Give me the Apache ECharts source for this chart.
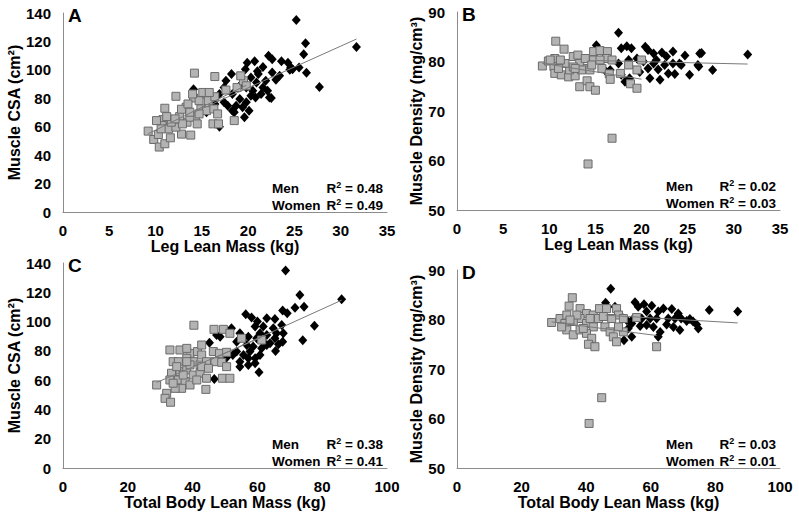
<!DOCTYPE html>
<html>
<head>
<meta charset="utf-8">
<script src="https://cdn.jsdelivr.net/npm/echarts/dist/echarts.min.js"></script>
<style>
  html, body { margin: 0; background: #fff; }
  #main { width: 799px; height: 519px; }
</style>
</head>
<body>
<div id="main"></div>
<script>
// Panel A: leg lean mass (kg) vs muscle CSA (cm2)
var menA = [
  [25.2,135],[26.2,118.7],[26.0,111],[26.3,98],[27.7,88],[31.7,116],[22.2,110],[22.6,107.5],
  [23.6,106],[24.3,105],[24.6,101.6],[24.5,100],[20.7,106],[19.9,105],[19.7,100.5],[21.6,102],
  [22.6,98.1],[23.4,95.8],[21.9,92.3],[21.1,97],[20.3,94.6],[20.9,91.1],[21.6,87.6],[22.1,85.3],
  [22.5,80.2],[21.4,83],[20.5,85.3],[19.8,87.6],[19.1,88.8],[18.2,97],[17.6,92.3],[17.4,87.6],
  [18.3,83],[19.1,79.5],[19.8,77.2],[19.4,73.7],[18.7,74.8],[17.8,74.8],[17.4,77.2],[18.3,71.3],
  [20.1,71.3],[19.6,66.7],[18.5,70.2],[14.1,86.3],[16.9,83],[16.4,76],[15.5,70.2],[20.8,80.6],
  [20.3,81.8],[25.5,101.6],[24.8,100.5],[22.3,80.6],[23.0,93],[21.0,99],[16.9,60]
];
var womenA = [
  [14.2,97.7],[16.4,95.3],[12.2,81.4],[11.0,73],[10.8,65],[9.2,56.9],[9.8,51],[10.4,45.7],
  [11.0,48],[11.6,52.2],[12.8,54.8],[13.8,54.1],[10.7,60.8],[11.4,58.5],[12.2,59.7],[13.4,63.2],
  [12.6,67.1],[13.3,73.7],[14.1,80.2],[14.7,78.3],[15.5,83],[15.7,78.3],[16.4,81.1],[14.9,72.5],
  [14.3,67.1],[13.7,66.7],[15.5,71.3],[16.3,72.5],[16.7,69],[16.2,62],[16.8,62],[18.5,64.3],
  [17.6,85.8],[18.8,87.6],[19.5,92.3],[19.2,95.8],[19.8,88.8],[12.9,62],[11.7,63.2],[12.8,72.3],
  [13.5,76],[15.1,84.1],[15.8,84.1],[11.2,67.1],[12.1,65.5],[10.3,54.5],[10.6,58.5],[14.5,62],
  [14.7,69],[13.7,70.2],[14.0,83],[10.1,64.3]
];

// Panel B: leg lean mass (kg) vs muscle density (mg/cm3)
var menB = [
  [17.5,85.8],[15.1,83.3],[17.8,82.7],[18.4,83.1],[18.9,82.7],[20.4,83],[20.7,82.3],[21.3,81.6],
  [22.2,81.8],[23.4,82],[24.7,81.2],[26.3,81.6],[26.2,79],[25.2,77.3],[23.6,77.5],[22.9,77.6],
  [22.0,76.3],[20.9,76.6],[18.2,75.9],[18.7,76.6],[17.8,77.3],[16.6,78.3],[17.5,79.6],[18.6,80.3],
  [19.5,80.6],[20.2,80],[21.6,80.3],[22.5,79.3],[23.4,79.6],[24.3,79.3],[20.7,78.6],[21.8,78.4],
  [19.8,77.9],[22.7,81],[21.3,79.6],[31.5,81.4],[27.7,78.3],[26.1,79.3],[26.5,81.7],[24.1,79.6],
  [15.6,80.2],[16.2,77.9]
];
var womenB = [
  [10.7,84.1],[11.6,82.5],[9.25,79.1],[9.9,80.1],[10.6,80.6],[10.5,79],[10.6,77.6],[11.3,77.3],
  [12.1,76.9],[12.8,77.1],[12.2,78.3],[11.7,79.6],[12.6,81],[13.1,81.3],[13.3,79.6],[13.9,80.6],
  [14.1,78.6],[14.4,78.3],[14.8,82],[15.5,82.2],[16.3,82],[16.2,80.6],[15.7,78.6],[14.8,80.3],
  [16.8,80.3],[13.3,74.9],[14.1,76.1],[14.4,74.9],[15.0,74.2],[16.5,77.5],[16.6,76.4],[17.7,77.6],
  [18.6,79.3],[18.8,75.5],[19.5,74.6],[19.5,78.3],[20.0,80.3],[16.8,64.5],[14.2,59.3],[12.6,78.9],
  [13.5,78.3],[11.2,80.3],[10.1,80.3],[12.8,78.6],[14.6,79.3],[15.5,80.3],[11.0,78.6]
];

// Panel C: total body lean mass (kg) vs muscle CSA (cm2)
var menC = [
  [68.7,134.8],[73.1,118.2],[71.6,109.5],[74.4,110.2],[67.8,107.5],[69.2,105.7],[77.6,97.2],[74.0,87.2],
  [56.4,105],[58.2,102.7],[60.0,100],[62.9,102.3],[65.4,101.8],[67.5,97.7],[64.9,95.4],[61.8,96.6],
  [59.3,96.6],[60.8,92],[62.9,90.9],[65.9,92],[68.0,92],[67.8,86.3],[66.5,84.5],[63.9,85.2],
  [65.6,79.9],[59.8,88.6],[57.2,89.7],[54.6,92],[52.0,95.4],[48.5,89.7],[47.4,90.9],[53.6,86.3],
  [56.7,84],[58.7,82.9],[61.3,81.8],[53.6,79.5],[55.7,77.2],[57.2,74.9],[59.3,74.9],[60.8,77.2],
  [54.6,72.6],[57.2,70.4],[59.3,71.5],[54.6,69.2],[60.5,65.4],[46.7,60.8],[52.4,77.2],[57.7,79.5],
  [62.9,84],[65.4,88.6],[86.0,115.2],[45.2,85.5],[50.5,75.5]
];
var womenC = [
  [40.4,97.5],[46.6,94.7],[49.5,94.7],[51.5,92],[55.1,88.6],[61.3,87.4],[36.1,80.6],[39.2,78.3],
  [41.5,79.5],[42.8,77.2],[46.4,79.5],[48.3,78.3],[50.5,79],[34.0,72.6],[35.6,72.6],[38.2,74.9],
  [40.2,72.6],[42.3,70.4],[44.3,72.6],[46.9,72.6],[49.0,72.2],[50.5,69.2],[33.5,64.7],[36.1,65.8],
  [38.2,67],[40.2,63.5],[42.3,64.7],[44.3,61.3],[33.0,60.1],[35.6,60.1],[37.7,59],[39.2,56.7],
  [36.6,54.4],[34.6,54.4],[32.0,51],[31.5,47.6],[33.2,44.9],[28.9,56.7],[44.1,53.7],[49.2,61.3],
  [51.5,61.3],[42.8,69.2],[44.9,68.1],[39.2,70.4],[37.1,63.5],[41.3,60.1],[35.1,69.2],[34.0,57.9],
  [38.2,81.7],[42.8,84],[33.0,80.6],[38.2,72.6]
];

// Panel D: total body lean mass (kg) vs muscle density (mg/cm3)
var menD = [
  [47.6,86.2],[46.0,83.4],[48.9,82.6],[55.1,83.5],[56.1,82.6],[57.9,83.1],[60.3,82.8],[62.3,81.6],
  [66.5,82.1],[68.5,81.2],[72.1,80.1],[74.2,79],[74.7,78.2],[78.1,81.9],[69.0,77.9],[67.0,78.5],
  [64.9,79],[62.9,77.5],[62.3,76.5],[60.8,78.5],[58.7,78.9],[56.7,78.7],[57.2,80.2],[59.8,80.2],
  [61.8,80.2],[65.4,80.2],[54.6,80.2],[54.1,76.5],[51.7,75.8],[53.0,78.2],[54.1,79.2],[50.5,80.9],
  [52.5,79.9],[58.7,81.6],[63.9,82.2],[67.5,80.2],[71.1,79.7],[86.9,81.6],[73.1,79.6],[69.4,80.2]
];
var womenD = [
  [35.7,84.4],[34.7,82.7],[29.3,79.4],[31.9,80.2],[33.4,79.2],[34.0,77.9],[36.0,76.9],[38.1,82.2],
  [40.1,81.2],[42.2,80.9],[44.1,82.2],[46.3,82.2],[49.4,82.2],[50.0,80.9],[51.5,80.2],[43.8,80.2],
  [38.1,80.2],[36.0,79.6],[40.1,79.2],[42.2,78.5],[38.1,77.9],[40.1,77.2],[41.7,76.2],[40.7,75],
  [42.7,74.5],[45.8,78.5],[47.4,77.5],[48.4,76.5],[49.4,75.5],[51.5,77.5],[50.0,78.5],[55.6,80.4],
  [61.8,74.5],[44.8,64.2],[40.9,59],[32.4,78.5],[37.1,80.9],[41.2,80.2],[45.3,80.6],[47.9,80.2],
  [34.0,80.9],[39.1,78.2],[35.0,79.9]
];

var letters = ["A", "B", "C", "D"];
var xNames = ["Leg Lean Mass (kg)", "Leg Lean Mass (kg)", "Total Body Lean Mass (kg)", "Total Body Lean Mass (kg)"];
var yNames = ["Muscle CSA (cm²)", "Muscle Density (mg/cm³)", "Muscle CSA (cm²)", "Muscle Density (mg/cm³)"];
var menR2 = ["0.48", "0.02", "0.38", "0.03"];
var womenR2 = ["0.49", "0.03", "0.41", "0.01"];

var font = "'Liberation Sans', Arial, sans-serif";

// least squares line over the data range, like the excel trendline
function trend(pts) {
  var n = pts.length, sx = 0, sy = 0, sxx = 0, sxy = 0;
  var lo = Infinity, hi = -Infinity;
  pts.forEach(function (p) {
    sx += p[0]; sy += p[1]; sxx += p[0] * p[0]; sxy += p[0] * p[1];
    lo = Math.min(lo, p[0]); hi = Math.max(hi, p[0]);
  });
  var b = (n * sxy - sx * sy) / (n * sxx - sx * sx);
  var a = (sy - b * sx) / n;
  return [[lo, a + b * lo], [hi, a + b * hi]];
}

var panels = [
  { men: menA, women: womenA, grid: { left: 63, top: 13, width: 324, height: 199 }, x: [0, 35, 5], y: [0, 140, 20], gap: 40 },
  { men: menB, women: womenB, grid: { left: 457, top: 12, width: 323, height: 198 }, x: [0, 35, 5], y: [50, 90, 10], gap: 33 },
  { men: menC, women: womenC, grid: { left: 63, top: 263, width: 324, height: 205 }, x: [0, 100, 20], y: [0, 140, 20], gap: 40 },
  { men: menD, women: womenD, grid: { left: 457, top: 270, width: 323, height: 198 }, x: [0, 100, 20], y: [50, 90, 10], gap: 33 }
];

var axisLine = { show: true, lineStyle: { color: "#8c8c8c", width: 1 } };
var tickLabel = { color: "#000", fontFamily: font, fontWeight: "bold", fontSize: 15 };
var nameStyle = { color: "#000", fontFamily: font, fontWeight: "bold", fontSize: 16 };

// R² label with a small raised 2
var r2Rich = {
  t: { fontFamily: font, fontWeight: "bold", fontSize: 13.5, color: "#000", lineHeight: 16 },
  s: { fontFamily: font, fontWeight: "bold", fontSize: 9, color: "#000", lineHeight: 16, padding: [0, 0, 7, 0] }
};

var grids = [], xAxes = [], yAxes = [], series = [], graphics = [];

panels.forEach(function (p, i) {
  grids.push(p.grid);
  xAxes.push({
    type: "value", gridIndex: i, min: p.x[0], max: p.x[1], interval: p.x[2],
    axisLine: axisLine, axisTick: { show: false }, splitLine: { show: false },
    axisLabel: Object.assign({ margin: 11 }, tickLabel),
    name: xNames[i], nameLocation: "middle", nameGap: 26, nameTextStyle: nameStyle
  });
  yAxes.push({
    type: "value", gridIndex: i, min: p.y[0], max: p.y[1], interval: p.y[2],
    axisLine: axisLine, axisTick: { show: false }, splitLine: { show: false },
    axisLabel: Object.assign({ margin: 12 }, tickLabel),
    name: yNames[i], nameLocation: "middle", nameGap: p.gap, nameTextStyle: nameStyle
  });

  series.push({
    type: "scatter", xAxisIndex: i, yAxisIndex: i, data: p.men,
    symbol: "diamond", symbolSize: [9, 10], z: 2,
    itemStyle: { color: "#000", opacity: 1 }
  });
  series.push({
    type: "scatter", xAxisIndex: i, yAxisIndex: i, data: p.women,
    symbol: "rect", symbolSize: 8, z: 3,
    itemStyle: { color: "#b3b3b3", borderColor: "#6b6b6b", borderWidth: 1, opacity: 1 }
  });
  [p.men, p.women].forEach(function (d) {
    series.push({
      type: "line", xAxisIndex: i, yAxisIndex: i, data: trend(d),
      symbol: "none", silent: true, z: 4,
      lineStyle: { color: "#7a7a7a", width: 1 }
    });
  });

  var g = p.grid;
  graphics.push({
    type: "text", left: g.left + 5, top: g.top - 7,
    style: { text: letters[i], font: "bold 19px " + font, fill: "#000" }
  });
  var right = g.left + g.width - 4;
  var bottom = g.top + g.height;
  var y1 = bottom - 24, y2 = bottom - 7;
  var txt = "bold 13.5px " + font;
  graphics.push({ type: "text", x: g.left + 209, y: y1, style: { text: "Men", font: txt, fill: "#000", verticalAlign: "middle" } });
  graphics.push({ type: "text", x: g.left + 209, y: y2, style: { text: "Women", font: txt, fill: "#000", verticalAlign: "middle" } });
  graphics.push({ type: "text", x: right, y: y1, style: { text: "{t|R}{s|2}{t| = " + menR2[i] + "}", rich: r2Rich, align: "right", verticalAlign: "middle" } });
  graphics.push({ type: "text", x: right, y: y2, style: { text: "{t|R}{s|2}{t| = " + womenR2[i] + "}", rich: r2Rich, align: "right", verticalAlign: "middle" } });
});

var myChart = echarts.init(document.getElementById("main"), null, { renderer: "svg" });
var option = {
  backgroundColor: "#fff",
  animation: false,
  grid: grids,
  xAxis: xAxes,
  yAxis: yAxes,
  series: series,
  graphic: graphics
};
option && myChart.setOption(option);
</script>
</body>
</html>
